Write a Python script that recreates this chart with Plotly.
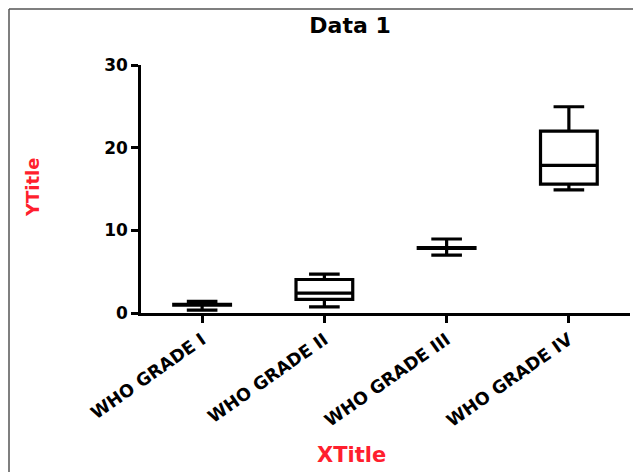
import plotly.graph_objects as go

# ---- data ----
categories = ["WHO GRADE I", "WHO GRADE II", "WHO GRADE III", "WHO GRADE IV"]
lower_whisker = [0.35, 0.75, 7.0, 14.9]
q1_values = [0.95, 1.65, 7.8, 15.6]
median_values = [1.0, 2.4, 7.85, 17.85]
q3_values = [1.05, 4.05, 7.9, 22.0]
upper_whisker = [1.4, 4.7, 8.95, 24.95]
y_tick_values = [0, 10, 20, 30]

chart_title = "Data 1"
x_title = "XTitle"
y_title = "YTitle"

FONT = "DejaVu Sans, Liberation Sans, Arial, sans-serif"
RED = "#ff1f2e"

# the page places the figure 8px from the top-left corner (body margin)
OFF = 8
PAGE_W, PAGE_H = 641, 472
W, H = PAGE_W - OFF, PAGE_H - OFF

# plot area in page pixels
AX_LEFT, AX_RIGHT, AX_TOP, AX_BOTTOM = 141, 630, 65, 313
L = AX_LEFT - OFF
T = AX_TOP - OFF
R = W - (AX_RIGHT - OFF)
B = H - (AX_BOTTOM - OFF)
pw, ph = W - L - R, H - T - B

def px(x):
    return (x - AX_LEFT) / pw

def py(y):
    return (AX_BOTTOM - y) / ph

fig = go.Figure()
fig.add_trace(go.Box(
    x=categories,
    q1=q1_values,
    median=median_values,
    q3=q3_values,
    lowerfence=lower_whisker,
    upperfence=upper_whisker,
    boxpoints=False,
    fillcolor="rgba(0,0,0,0)",
    line=dict(color="black", width=3.2),
    whiskerwidth=0.54,
    showlegend=False,
    hoverinfo="skip",
))

fig.update_layout(
    width=W, height=H, autosize=False,
    margin=dict(l=L, r=R, t=T, b=B, pad=0),
    paper_bgcolor="white", plot_bgcolor="white",
    boxgap=0.337,
    title=dict(
        text=chart_title,
        x=px(350), xref="paper", xanchor="center",
        y=1 - (25 - OFF) / H, yref="container", yanchor="middle",
        font=dict(family=FONT, size=22, color="black", weight="bold"),
    ),
    xaxis=dict(
        type="category",
        range=[-0.5, 3.5],
        showline=True, linecolor="black", linewidth=2.5,
        ticks="outside", ticklen=7, tickwidth=2.5, tickcolor="black",
        tickangle=-35,
        tickfont=dict(family=FONT, size=17.5, color="black", weight="bold"),
        showgrid=False, zeroline=False,
    ),
    yaxis=dict(
        range=[0, 30],
        tickvals=y_tick_values,
        showline=True, linecolor="black", linewidth=2.5,
        ticks="outside", ticklen=7, tickwidth=2.5, tickcolor="black",
        tickfont=dict(family=FONT, size=17, color="black", weight="bold"),
        showgrid=False, zeroline=False,
    ),
    annotations=[
        dict(text=x_title, xref="paper", yref="paper",
             x=px(351), y=py(455), xanchor="center", yanchor="middle",
             showarrow=False,
             font=dict(family=FONT, size=21, color=RED, weight="bold")),
        dict(text=y_title, xref="paper", yref="paper",
             x=px(32), y=py(188), xanchor="center", yanchor="middle",
             textangle=-90, showarrow=False,
             font=dict(family=FONT, size=18, color=RED, weight="bold")),
    ],
    shapes=[
        dict(type="line", xref="paper", yref="paper",
             x0=px(9), x1=px(9), y0=py(480), y1=py(9),
             line=dict(color="#555555", width=1.5)),
        dict(type="line", xref="paper", yref="paper",
             x0=px(9), x1=px(660), y0=py(9), y1=py(9),
             line=dict(color="#555555", width=1.5)),
    ],
)

fig.write_html("out.html")
